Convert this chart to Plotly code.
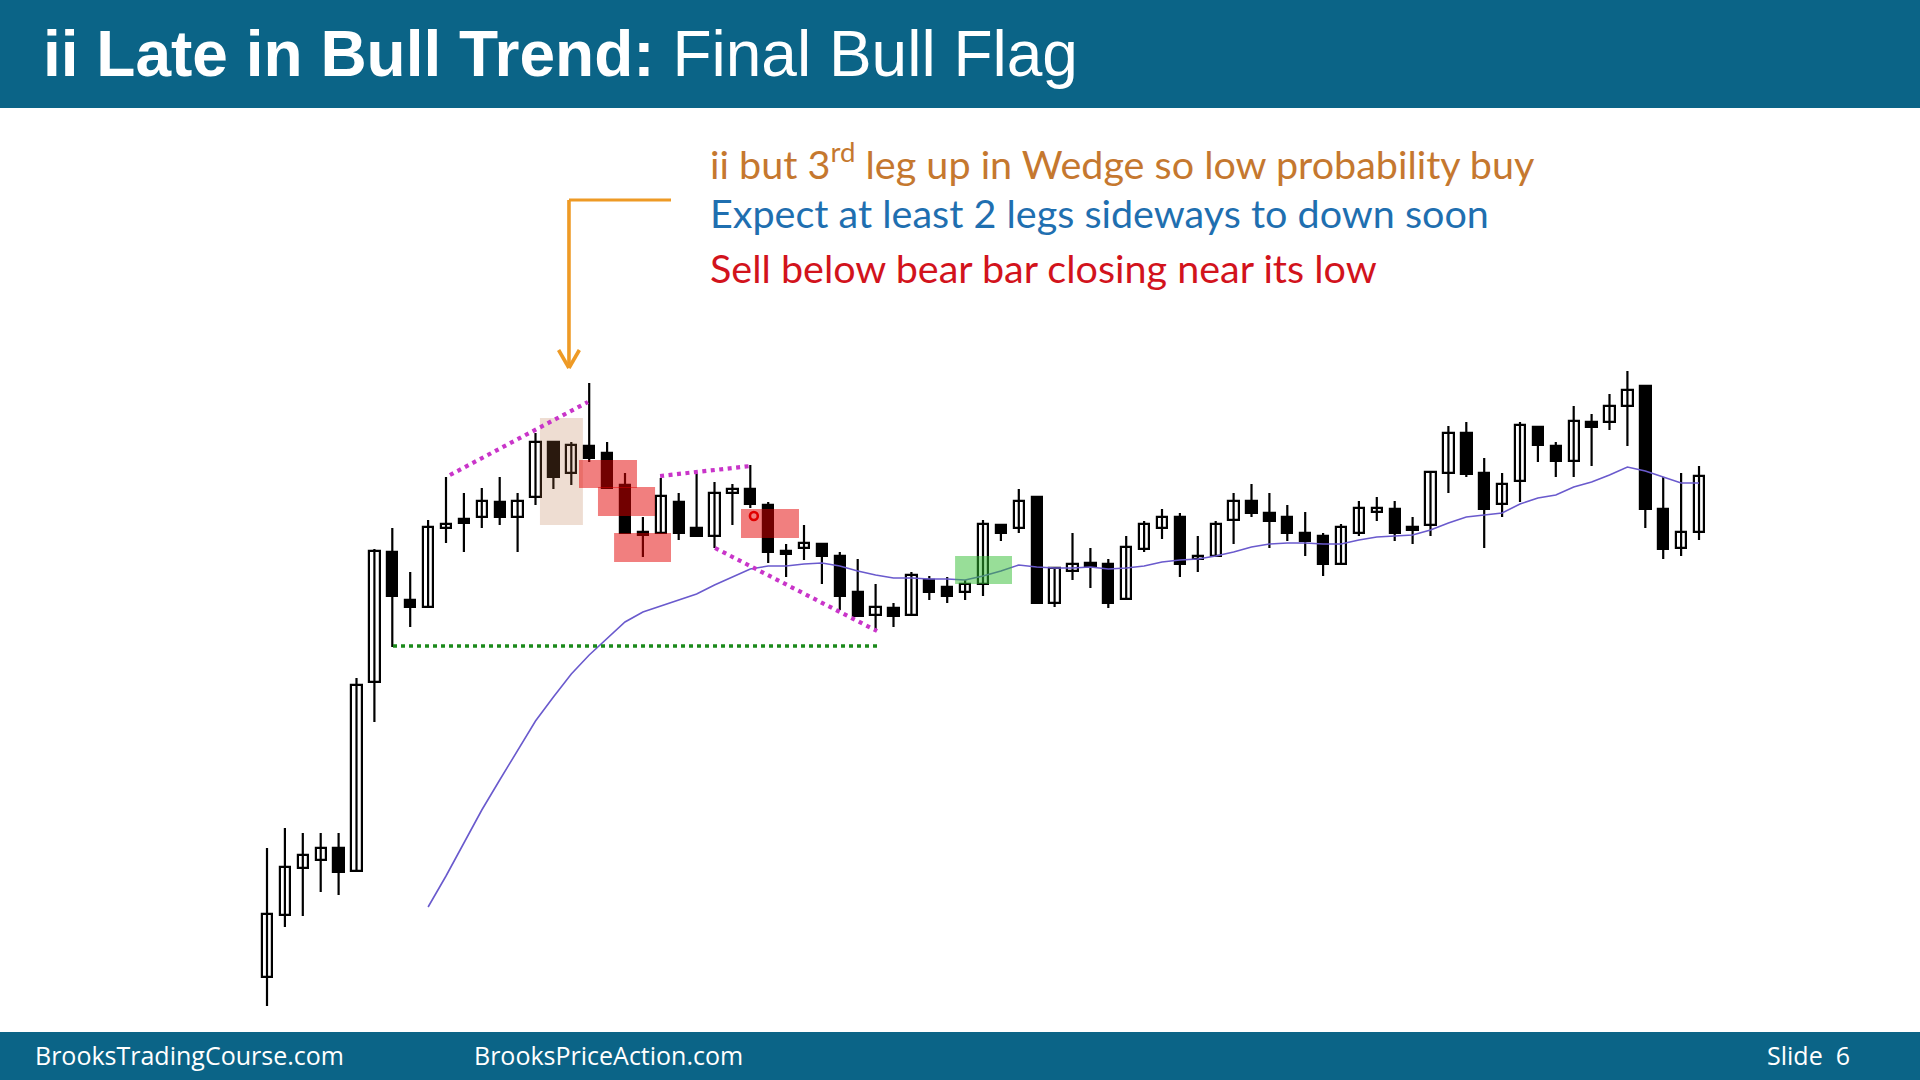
import plotly.graph_objects as go

# ---------------- data (price units) ----------------
bar_no = list(range(1, 82))

opens = [103, 165, 212, 220, 232, 209, 398, 528, 480, 473,
         552, 561, 563, 578, 563, 583, 638, 607, 634, 627,
         595, 548, 547, 578, 552, 544, 587, 591, 575, 529,
         532, 536, 524, 488, 465, 472, 465, 500, 493, 488,
         496, 555, 552, 583, 477, 509, 517, 516, 481, 531,
         552, 563, 521, 524, 560, 579, 567, 563, 547, 544,
         516, 547, 568, 571, 553, 555, 607, 647, 607, 576,
         599, 653, 634, 619, 658, 658, 674, 694, 571, 532,
         548]
highs = [232, 252, 247, 247, 247, 402, 531, 552, 508, 560,
         603, 587, 592, 603, 587, 647, 638, 638, 697, 638,
         607, 563, 602, 587, 607, 598, 596, 615, 578, 536,
         555, 536, 528, 521, 496, 477, 508, 504, 503, 500,
         560, 555, 591, 583, 512, 547, 532, 521, 544, 559,
         571, 567, 544, 559, 587, 596, 587, 575, 568, 547,
         556, 579, 583, 579, 563, 608, 654, 658, 622, 607,
         658, 653, 638, 674, 666, 686, 709, 694, 603, 607,
         614]
lows = [74, 153, 164, 188, 185, 209, 358, 433, 453, 473,
        537, 528, 552, 555, 528, 575, 591, 595, 618, 591,
        547, 523, 547, 540, 544, 532, 555, 572, 517, 503,
        520, 496, 470, 464, 449, 453, 465, 480, 477, 480,
        484, 539, 547, 477, 473, 500, 492, 472, 481, 528,
        541, 503, 508, 524, 536, 563, 532, 539, 524, 504,
        516, 544, 559, 539, 536, 544, 587, 603, 532, 563,
        578, 618, 603, 603, 614, 650, 634, 552, 521, 524,
        540]
closes = [166, 213, 225, 232, 208, 395, 529, 484, 473, 553,
          556, 557, 579, 563, 579, 638, 603, 635, 622, 592,
          547, 545, 584, 547, 544, 587, 591, 576, 528, 526,
          537, 524, 484, 464, 473, 464, 505, 488, 484, 496,
          556, 547, 579, 477, 512, 516, 513, 477, 533, 556,
          563, 516, 524, 556, 579, 567, 559, 547, 539, 516,
          553, 572, 572, 547, 550, 608, 647, 606, 571, 596,
          655, 635, 619, 659, 653, 674, 690, 571, 531, 548,
          604]
ema20 = [None] * 9 + [
    173, 204, 237, 270, 300, 329, 359, 383, 406, 425, 442,
    458, 468, 474, 480, 486, 495, 503, 511, 514, 514,
    516, 517, 514, 509, 505, 502, 502, 501, 501, 500,
    504, 509, 515, 513, 512, 512, 513, 511, 512, 514,
    518, 520, 521, 524, 528, 533, 536, 537, 537, 536,
    536, 540, 543, 544, 545, 550, 557, 563, 565, 567,
    576, 582, 585, 593, 598, 605, 613, 609, 603, 597,
    597]

entry_bar = 28.2
entry_price = 564

title_bold = "ii Late in Bull Trend:"
title_rest = "Final Bull Flag"
notes = [
    ("ii but 3<sup>rd</sup> leg up in Wedge so low probability buy", "#C5782F"),
    ("Expect at least 2 legs sideways to down soon", "#1F6FB0"),
    ("Sell below bear bar closing near its low", "#D2131C"),
]
footer_left = "BrooksTradingCourse.com"
footer_mid = "BrooksPriceAction.com"
footer_right = "Slide  6"

# ---------------- figure ----------------
W, H = 1920, 1080
fig = go.Figure()

# wicks
wx, wy = [], []
for i, h, l in zip(bar_no, highs, lows):
    wx += [i, i, None]
    wy += [l, h, None]
fig.add_trace(go.Scatter(x=wx, y=wy, mode="lines",
                         line=dict(color="black", width=2.2),
                         hoverinfo="skip", showlegend=False))

# bodies
base = [min(o, c) for o, c in zip(opens, closes)]
height = [max(abs(c - o), 1) for o, c in zip(opens, closes)]
fills = ["white" if c > o else "black" for o, c in zip(opens, closes)]
fig.add_trace(go.Bar(x=bar_no, y=height, base=base, width=0.58,
                     marker=dict(color=fills, line=dict(color="black", width=2.2)),
                     showlegend=False, hoverinfo="skip"))

# moving average
fig.add_trace(go.Scatter(x=bar_no, y=ema20, mode="lines",
                         line=dict(color="#6A5ACD", width=1.6),
                         connectgaps=False, hoverinfo="skip", showlegend=False))

shapes = []
# header / footer bars
shapes.append(dict(type="rect", xref="paper", yref="paper", x0=0, x1=1,
                   y0=1 - 108 / H, y1=1, fillcolor="#0B6487", line=dict(width=0),
                   layer="below"))
shapes.append(dict(type="rect", xref="paper", yref="paper", x0=0, x1=1,
                   y0=0, y1=48 / H, fillcolor="#0B6487", line=dict(width=0),
                   layer="below"))

# highlight boxes
def box(x0, x1, y0, y1, color):
    shapes.append(dict(type="rect", xref="x", yref="y", x0=x0, x1=x1, y0=y0, y1=y1,
                       fillcolor=color, line=dict(width=0), layer="above"))

box(16.25, 18.65, 555, 662, "rgba(180,110,60,0.23)")
box(18.43, 21.67, 592, 620, "rgba(228,0,0,0.5)")
box(19.49, 22.68, 564, 593, "rgba(228,0,0,0.5)")
box(20.39, 23.57, 518, 547, "rgba(228,0,0,0.5)")
box(27.48, 30.72, 542, 571, "rgba(228,0,0,0.5)")
box(39.44, 42.62, 496, 524, "rgba(50,190,50,0.5)")

# entry mark (red ring)
shapes.append(dict(type="circle", xref="x", yref="y",
                   x0=entry_bar - 0.22, x1=entry_bar + 0.22,
                   y0=entry_price - 4, y1=entry_price + 4,
                   line=dict(color="#E00000", width=2.6), fillcolor="rgba(0,0,0,0)",
                   layer="above"))

def seg(x0, y0, x1, y1, color, width, dash):
    shapes.append(dict(type="line", xref="x", yref="y", x0=x0, y0=y0, x1=x1, y1=y1,
                       line=dict(color=color, width=width, dash=dash), layer="above"))

# wedge lines (magenta dotted)
seg(11.22, 605, 18.93, 678, "#C935C9", 4.2, "4px,4.5px")
seg(22.96, 604, 28.04, 614, "#C935C9", 4.2, "4px,4.5px")
seg(26.03, 532, 35.08, 449, "#C935C9", 4.2, "4px,4.5px")
# breakout test line (green dotted)
seg(8.04, 434, 35.08, 434, "#1B8A1B", 3.4, "4px,4px")
# orange arrow
arrow_col = "#EE9A25"
seg(23.57, 880, 17.87, 880, arrow_col, 3.2, "solid")
seg(17.87, 880, 17.87, 712, arrow_col, 3.6, "solid")
seg(17.87, 712, 17.87 - 0.58, 730, arrow_col, 3.6, "solid")
seg(17.87, 712, 17.87 + 0.58, 730, arrow_col, 3.6, "solid")

annotations = []
annotations.append(dict(x=41 / W, y=1 - 54 / H, xref="paper", yref="paper",
                        xanchor="left", yanchor="middle", showarrow=False,
                        text="<b>" + title_bold + "</b> " + title_rest,
                        font=dict(family="Liberation Sans, Arial", size=64, color="white")))

note_y = [161, 213, 267]
for (txt, col), yy in zip(notes, note_y):
    annotations.append(dict(x=708 / W, y=1 - yy / H, xref="paper", yref="paper",
                            xanchor="left", yanchor="middle", showarrow=False,
                            text=txt, font=dict(family="Lato", size=39.5, color=col)))

for txt, xx, anchor in [(footer_left, 33, "left"), (footer_mid, 472, "left"),
                        (footer_right, 1852, "right")]:
    annotations.append(dict(x=xx / W, y=1 - 1055 / H, xref="paper", yref="paper",
                            xanchor=anchor, yanchor="middle", showarrow=False,
                            text=txt, font=dict(family="Open Sans", size=25, color="white")))

fig.update_layout(
    width=W, height=H,
    margin=dict(l=0, r=0, t=0, b=0),
    paper_bgcolor="white", plot_bgcolor="white",
    xaxis=dict(range=[-13.916, 93.346], visible=False, fixedrange=True),
    yaxis=dict(range=[0, 1080], visible=False, fixedrange=True),
    shapes=shapes, annotations=annotations,
    showlegend=False, bargap=0,
)

fig.write_html("out.html", config={"displayModeBar": False})
